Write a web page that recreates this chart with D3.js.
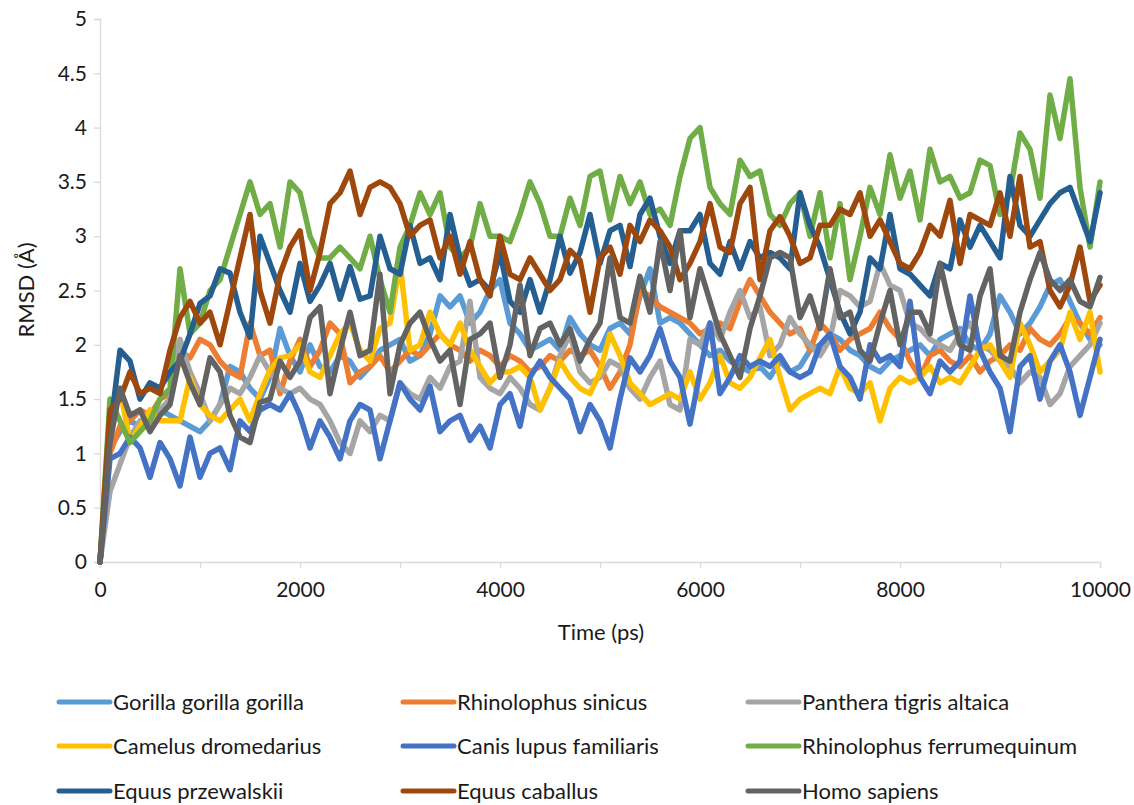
<!DOCTYPE html>
<html>
<head>
<meta charset="utf-8">
<script src="https://cdn.jsdelivr.net/npm/d3@7"></script>
<style>
  body { margin: 0; background: #fff; }
  svg text { font-family: Lato, "Open Sans", sans-serif; fill: #1a1a1a; }
</style>
</head>
<body>
<div id="chart"></div>
<script>
// time axis, every 100 ps from 0 to 10000
const times = d3.range(0, 10001, 100);

const gorilla = [0, 1.05,1.2,1.3,1.25,1.3,1.4,1.35,1.3,1.25,1.2, 1.3,1.45,1.8,1.75,1.6,1.5,1.7,2.15,1.9,1.75, 2.0,1.8,1.75,1.9,1.85,1.7,1.8,1.95,2.0,2.05, 1.85,1.9,2.1,2.45,2.35,2.45,2.2,2.3,2.5,2.6, 2.2,2.1,1.95,2.0,2.05,1.95,2.25,2.1,2.0,1.95, 2.15,2.2,2.1,2.45,2.7,2.2,2.25,2.2,2.1,2.0, 1.9,1.95,1.85,1.8,1.75,1.8,1.7,1.85,1.75,1.8, 1.95,2.0,2.1,2.05,1.95,1.9,1.8,1.75,1.85,1.9, 1.95,2.0,1.9,2.05,2.1,2.15,2.0,1.95,2.1,2.45, 2.3,2.1,2.2,2.35,2.55,2.6,2.4,2.2,2.05,2.0];
const sinicus = [0, 1.0,1.25,1.3,1.4,1.35,1.5,1.55,1.95,1.88,2.05, 2.0,1.85,1.75,1.7,2.2,1.9,1.95,1.55,1.85,2.05, 1.8,1.95,2.2,2.1,1.65,1.75,1.8,1.9,1.75,1.85, 1.95,1.9,2.0,2.1,2.0,1.95,1.85,1.95,1.9,1.8, 1.9,1.85,1.75,1.8,1.9,1.85,1.95,1.9,1.95,1.8, 1.6,1.75,2.0,2.5,2.45,2.35,2.3,2.25,2.2,2.1, 2.15,2.2,2.15,2.4,2.6,2.45,2.3,2.2,2.1,2.15, 1.95,2.2,2.1,1.95,2.05,2.1,2.15,2.3,2.15,2.05, 1.85,1.7,1.9,1.95,1.85,1.8,1.9,1.75,1.85,1.9, 2.0,1.95,2.15,2.05,2.0,2.1,2.25,2.2,2.1,2.25];
const panthera = [0, 0.65,0.9,1.15,1.3,1.25,1.4,1.5,2.05,1.75,1.55, 1.3,1.45,1.6,1.55,1.7,1.9,1.75,1.6,1.55,1.6, 1.5,1.45,1.3,1.1,1.0,1.3,1.2,1.35,1.3,1.65, 1.55,1.5,1.7,1.6,1.8,1.85,2.4,1.7,1.6,1.55, 1.7,1.6,1.45,1.4,1.6,1.9,2.1,1.75,1.65,1.7, 1.85,1.8,1.6,1.5,1.7,1.85,1.45,1.4,2.05,2.0, 2.2,2.05,2.3,2.5,2.25,2.35,1.9,2.0,2.25,2.1, 2.0,1.9,2.05,2.5,2.45,2.35,2.4,2.75,2.55,2.5, 2.2,2.15,2.05,2.0,1.95,2.1,2.2,2.0,1.95,1.85, 1.8,1.65,1.75,1.7,1.45,1.55,1.8,1.9,2.0,2.2];
const camelus = [0, 1.15,1.6,1.1,1.25,1.4,1.3,1.3,1.3,1.7,1.45, 1.35,1.3,1.4,1.5,1.3,1.55,1.77,1.88,1.9,2.0, 1.75,1.7,1.9,2.1,2.2,1.95,1.85,2.15,2.2,2.75, 1.95,2.0,2.3,2.1,2.0,2.2,1.95,1.8,1.65,1.75, 1.75,1.8,1.7,1.4,1.6,1.85,1.7,1.6,1.55,1.75, 2.1,1.9,1.65,1.55,1.45,1.5,1.55,1.5,1.75,1.5, 1.65,1.9,1.65,1.6,1.7,1.88,2.05,1.7,1.4,1.5, 1.55,1.6,1.55,1.8,1.6,1.55,1.65,1.3,1.6,1.7, 1.65,1.7,1.8,1.65,1.7,1.65,1.8,1.95,2.0,1.85, 1.7,2.2,2.0,1.75,1.85,1.95,2.3,2.05,2.3,1.75];
const canis = [0, 0.95,1.0,1.15,1.05,0.78,1.1,0.95,0.7,1.15,0.78, 1.0,1.05,0.85,1.3,1.2,1.4,1.45,1.4,1.55,1.35, 1.05,1.3,1.15,0.95,1.3,1.45,1.4,0.95,1.3,1.65, 1.5,1.4,1.62,1.2,1.3,1.35,1.12,1.25,1.05,1.45, 1.55,1.25,1.7,1.85,1.7,1.6,1.5,1.2,1.45,1.3, 1.05,1.5,1.88,1.75,1.9,2.15,1.85,1.7,1.27,1.75, 2.2,1.55,1.7,1.9,1.8,1.85,1.8,1.9,1.75,1.7, 1.75,2.0,2.1,1.8,1.7,1.5,2.0,1.85,1.9,1.8, 2.4,1.7,1.55,1.85,1.75,1.85,2.45,1.95,1.75,1.6, 1.2,1.8,1.9,1.5,1.85,2.0,1.75,1.35,1.7,2.05];
const ferrumequinum = [0, 1.5,1.3,1.1,1.2,1.3,1.5,1.6,2.7,2.1,2.2, 2.5,2.6,2.9,3.2,3.5,3.2,3.3,2.9,3.5,3.4, 3.0,2.8,2.8,2.9,2.8,2.7,3.0,2.6,2.3,2.9, 3.1,3.4,3.2,3.4,2.9,2.8,2.9,3.3,3.0,3.0, 2.95,3.2,3.5,3.3,3.0,3.0,3.35,3.1,3.55,3.6, 3.15,3.55,3.3,3.5,3.2,3.25,3.1,3.55,3.9,4.0, 3.45,3.3,3.2,3.7,3.55,3.6,3.2,3.1,3.3,3.4, 3.0,3.4,2.8,3.3,2.6,3.0,3.45,3.2,3.75,3.35, 3.6,3.15,3.8,3.5,3.55,3.35,3.4,3.7,3.65,3.2, 3.4,3.95,3.8,3.35,4.3,3.9,4.45,3.45,2.9,3.5];
const przewalskii = [0, 1.2,1.95,1.85,1.5,1.65,1.6,1.75,1.85,2.1,2.38, 2.45,2.7,2.66,2.3,2.07,3.0,2.75,2.5,2.3,2.75, 2.4,2.55,2.75,2.42,2.72,2.42,2.45,3.0,2.7,2.65, 3.1,2.75,2.8,2.6,3.2,2.8,2.55,2.6,2.5,2.85, 2.4,2.3,2.6,2.3,2.6,3.0,2.66,2.85,3.2,2.75, 3.05,3.1,2.72,3.2,3.35,3.0,2.75,3.05,3.05,3.2, 2.75,2.65,2.95,2.7,2.95,2.8,2.85,2.8,2.7,3.4, 3.1,2.9,2.6,2.3,2.1,2.3,2.8,2.7,3.2,2.7, 2.65,2.55,2.45,2.75,2.7,3.15,2.9,3.1,2.95,2.8, 3.55,3.1,3.0,3.15,3.3,3.4,3.45,3.2,2.95,3.4];
const caballus = [0, 1.4,1.5,1.75,1.55,1.6,1.55,1.95,2.25,2.4,2.2, 2.3,2.0,2.4,2.8,3.2,2.5,2.2,2.65,2.9,3.05, 2.5,2.85,3.3,3.4,3.6,3.2,3.45,3.5,3.45,3.3, 3.0,3.1,3.15,2.8,3.0,2.65,2.95,2.6,2.45,3.0, 2.65,2.6,2.8,2.65,2.5,2.6,2.87,2.78,2.3,2.8, 2.9,2.65,3.1,2.95,3.15,3.05,2.9,2.6,2.75,2.95, 3.3,2.9,2.85,3.3,3.45,2.6,3.05,3.18,3.0,2.75, 2.8,3.1,3.1,3.25,3.2,3.4,3.0,3.15,2.95,2.75, 2.7,2.85,3.1,3.0,3.33,2.75,3.2,3.15,3.1,3.4, 3.0,3.55,2.9,2.95,2.5,2.35,2.55,2.9,2.4,2.55];
const homo = [0, 1.1,1.6,1.35,1.4,1.2,1.35,1.45,1.9,1.65,1.45, 1.88,1.75,1.35,1.15,1.1,1.47,1.5,1.85,1.7,1.85, 2.25,2.35,1.55,1.95,2.3,1.9,1.95,2.65,1.55,2.0, 2.2,2.3,2.05,1.85,1.95,1.45,2.05,2.1,2.2,1.7, 2.0,2.55,1.9,2.15,2.2,2.0,2.15,1.85,2.05,2.2, 2.8,2.25,2.2,2.63,2.3,2.95,2.5,3.05,2.25,2.7, 2.4,2.1,1.9,1.7,2.15,2.45,2.8,2.85,2.8,2.25, 2.45,2.15,2.7,2.25,2.3,1.95,1.85,2.2,2.5,2.0, 2.3,2.3,2.1,2.75,2.35,2.0,1.95,2.45,2.7,1.9, 1.85,2.3,2.6,2.85,2.6,2.5,2.6,2.4,2.35,2.62];

const yTicks = [0, 0.5, 1, 1.5, 2, 2.5, 3, 3.5, 4, 4.5, 5];
const xTicks = [0, 1000, 2000, 3000, 4000, 5000, 6000, 7000, 8000, 9000, 10000];

const series = [
  { name: "Gorilla gorilla gorilla", values: gorilla, color: "#5B9BD5" },
  { name: "Rhinolophus sinicus", values: sinicus, color: "#ED7D31" },
  { name: "Panthera tigris altaica", values: panthera, color: "#A5A5A5" },
  { name: "Camelus dromedarius", values: camelus, color: "#FFC000" },
  { name: "Canis lupus familiaris", values: canis, color: "#4472C4" },
  { name: "Rhinolophus ferrumequinum", values: ferrumequinum, color: "#70AD47" },
  { name: "Equus przewalskii", values: przewalskii, color: "#255E91" },
  { name: "Equus caballus", values: caballus, color: "#9E480E" },
  { name: "Homo sapiens", values: homo, color: "#636363" }
];

const W = 1134, H = 805;
const margin = { top: 19, left: 100 },
      width = 1000,
      height = 543;

const svg = d3.select("#chart")
  .append("svg")
  .attr("width", W)
  .attr("height", H);

const g = svg.append("g")
  .attr("transform", `translate(${margin.left},${margin.top})`);

const x = d3.scaleLinear().domain([0, 10000]).range([0, width]);
const y = d3.scaleLinear().domain([0, 5]).range([height, 0]);

// Y axis
const yAxis = g.append("g")
  .call(d3.axisLeft(y).tickValues(yTicks).tickSize(6).tickPadding(7).tickFormat(d => String(d)));
yAxis.selectAll("text").attr("font-size", "21px");

// X axis
const xAxis = g.append("g")
  .attr("transform", `translate(0,${height})`)
  .call(d3.axisBottom(x).tickValues(xTicks).tickSize(6).tickPadding(14)
    .tickFormat(d => d % 2000 === 0 ? String(d) : ""));
xAxis.selectAll("text").attr("font-size", "21px");

g.selectAll(".domain, .tick line").attr("stroke", "#d9d9d9").attr("stroke-width", 1.3);

// Lines
const line = d3.line()
  .x((d, i) => x(times[i]))
  .y(d => y(d));

g.selectAll(".series")
  .data(series)
  .enter()
  .append("path")
  .attr("class", "series")
  .attr("fill", "none")
  .attr("stroke", d => d.color)
  .attr("stroke-width", 5.5)
  .attr("stroke-linejoin", "round")
  .attr("stroke-linecap", "round")
  .attr("d", d => line(d.values));

// Axis titles
svg.append("text")
  .attr("x", 601)
  .attr("y", 640)
  .attr("text-anchor", "middle")
  .attr("font-size", "22px")
  .text("Time (ps)");

svg.append("text")
  .attr("transform", "translate(34,290) rotate(-90)")
  .attr("text-anchor", "middle")
  .attr("font-size", "22px")
  .text("RMSD (Å)");

// Legend: 3 columns, 3 rows
const colX = [57, 401, 746], rowY = [702, 746, 791];
const legend = svg.selectAll(".legend")
  .data(series)
  .enter()
  .append("g")
  .attr("class", "legend")
  .attr("transform", (d, i) => `translate(${colX[i % 3]},${rowY[Math.floor(i / 3)]})`);

legend.append("line")
  .attr("x1", 2).attr("x2", 53)
  .attr("stroke", d => d.color)
  .attr("stroke-width", 5)
  .attr("stroke-linecap", "round");

legend.append("text")
  .attr("x", 56)
  .attr("dy", "0.35em")
  .attr("font-size", "22px")
  .text(d => d.name);
</script>
</body>
</html>
